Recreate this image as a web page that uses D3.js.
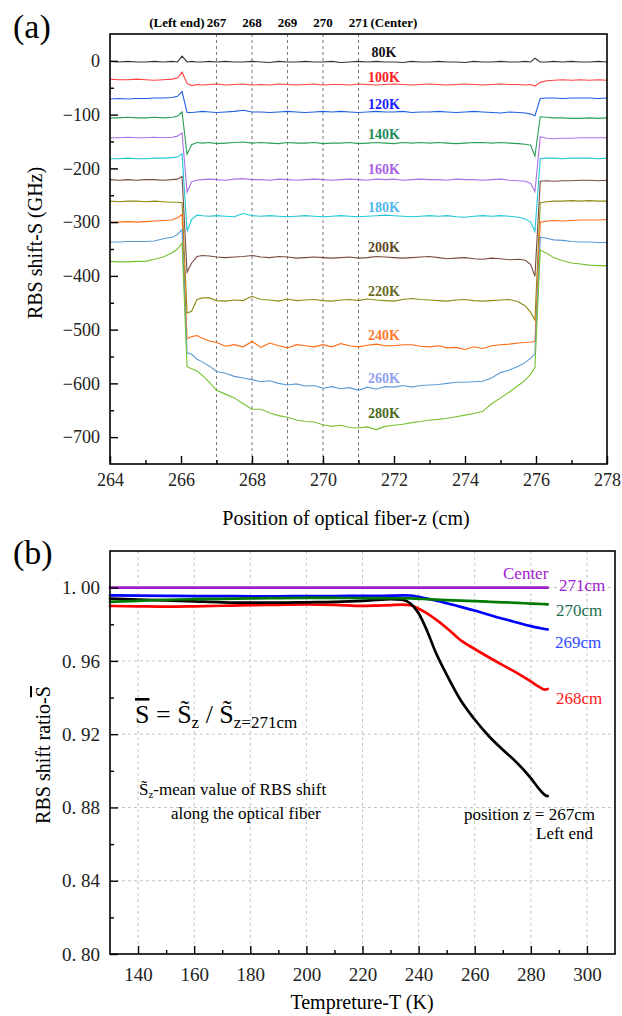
<!DOCTYPE html>
<html><head><meta charset="utf-8">
<script src="https://cdn.jsdelivr.net/npm/d3@7"></script>
<style>
body{margin:0;background:#fff}
svg{display:block}
</style>
</head><body>
<svg id="chart" width="622" height="1016" font-family="'Liberation Serif', 'DejaVu Serif', serif"></svg>
<script>
// ---------------- Panel (a) data ----------------
const zPos = [264,264.25,264.5,264.75,265,265.25,265.5,265.75,265.9,266.03,
 266.17,266.3,266.45,266.6,266.8,267,267.25,267.5,267.75,268,
 268.25,268.5,268.75,269,269.25,269.5,269.75,270,270.25,270.5,
 270.75,271,271.25,271.5,271.75,272,272.25,272.5,272.75,273,
 273.25,273.5,273.75,274,274.25,274.5,274.75,275,275.25,275.5,
 275.7,275.85,275.97,276.12,276.3,276.5,276.75,277,277.25,277.5,
 277.75,278];
const s80 = [-1,-2,-1,-2,-2,-1,-2,-1,-2,9,
 -2,-1,-2,-2,-1,-2,-1,-2,-2,-1,
 -2,-3,-1,-2,-2,-1,-2,-2,-1,-3,
 -2,-1,-2,-1,-2,-2,-3,-1,-2,-2,
 -1,-2,-2,-3,-1,-2,-2,-1,-2,-2,
 -1,-2,5,-2,-2,-1,-2,-1,-2,-2,
 -1,-2];
const s100 = [-34,-35,-35,-34,-35,-36,-35,-34,-32,-21,
 -42,-46,-44,-45,-44,-43,-45,-44,-43,-45,
 -44,-45,-43,-44,-45,-44,-43,-45,-44,-44,
 -45,-43,-44,-45,-44,-43,-44,-45,-44,-43,
 -44,-45,-44,-43,-44,-45,-44,-43,-44,-44,
 -45,-44,-47,-40,-37,-36,-35,-36,-35,-36,
 -35,-36];
const s120 = [-71,-70,-71,-70,-70,-69,-69,-68,-66,-57,
 -96,-96,-95,-94,-95,-96,-95,-94,-92,-95,
 -95,-96,-95,-94,-95,-96,-95,-94,-95,-94,
 -95,-96,-95,-94,-95,-95,-94,-96,-95,-95,
 -94,-95,-96,-95,-94,-95,-96,-97,-95,-96,
 -97,-99,-102,-70,-69,-69,-70,-69,-69,-69,
 -70,-69];
const s140 = [-106,-106,-105,-106,-106,-105,-106,-105,-103,-95,
 -174,-156,-152,-153,-152,-154,-153,-152,-151,-153,
 -152,-153,-154,-152,-153,-153,-152,-154,-153,-153,
 -152,-154,-153,-152,-153,-154,-152,-153,-152,-153,
 -152,-153,-154,-153,-152,-152,-153,-152,-153,-154,
 -155,-157,-177,-104,-105,-106,-106,-107,-107,-106,
 -107,-106];
const s160 = [-143,-143,-142,-143,-143,-142,-143,-142,-140,-134,
 -244,-225,-222,-221,-220,-221,-222,-220,-219,-221,
 -221,-222,-220,-221,-222,-221,-220,-221,-222,-221,
 -220,-221,-222,-220,-221,-220,-222,-221,-220,-221,
 -221,-222,-220,-221,-221,-222,-221,-220,-222,-223,
 -224,-228,-243,-141,-144,-145,-144,-144,-143,-143,
 -143,-143];
const s180 = [-182,-182,-181,-182,-182,-181,-181,-180,-179,-173,
 -317,-295,-287,-288,-289,-288,-289,-290,-284,-288,
 -289,-288,-289,-290,-289,-288,-289,-290,-289,-288,
 -289,-290,-289,-288,-287,-288,-289,-290,-289,-288,
 -289,-288,-290,-291,-289,-288,-289,-288,-289,-291,
 -294,-300,-317,-182,-181,-181,-182,-181,-181,-181,
 -182,-181];
const s200 = [-221,-222,-221,-222,-221,-221,-222,-221,-220,-215,
 -393,-376,-364,-362,-363,-365,-366,-365,-364,-362,
 -365,-366,-364,-365,-367,-366,-365,-366,-367,-366,
 -365,-367,-366,-364,-365,-366,-367,-366,-365,-364,
 -366,-368,-367,-366,-368,-369,-367,-368,-370,-369,
 -371,-379,-401,-224,-223,-224,-223,-223,-222,-222,
 -223,-222];
const s220 = [-261,-262,-261,-261,-262,-261,-262,-263,-263,-264,
 -469,-466,-444,-441,-441,-446,-447,-445,-446,-438,
 -444,-445,-447,-443,-446,-445,-444,-446,-447,-445,
 -444,-446,-443,-445,-446,-447,-444,-442,-444,-445,
 -446,-447,-445,-444,-446,-447,-446,-445,-444,-448,
 -456,-468,-482,-264,-262,-261,-261,-260,-261,-260,
 -261,-261];
const s240 = [-300,-300,-299,-300,-299,-298,-297,-296,-292,-286,
 -517,-513,-511,-516,-521,-524,-531,-528,-532,-522,
 -533,-525,-530,-534,-528,-530,-532,-528,-532,-526,
 -530,-532,-529,-527,-530,-530,-528,-528,-531,-532,
 -530,-534,-533,-537,-532,-535,-530,-528,-527,-525,
 -524,-523,-522,-300,-298,-297,-298,-297,-296,-296,
 -296,-295];
const s260 = [-337,-337,-336,-336,-336,-335,-331,-328,-323,-314,
 -543,-546,-555,-560,-568,-578,-581,-587,-590,-593,
 -597,-595,-600,-603,-601,-605,-604,-609,-606,-610,
 -608,-613,-607,-611,-606,-607,-604,-607,-604,-603,
 -602,-600,-598,-598,-597,-596,-590,-580,-575,-568,
 -561,-553,-545,-328,-330,-333,-334,-336,-337,-337,
 -338,-338];
const s280 = [-373,-374,-374,-373,-373,-369,-365,-357,-350,-339,
 -569,-573,-577,-585,-598,-613,-620,-627,-638,-648,
 -648,-655,-660,-663,-668,-671,-672,-677,-680,-678,
 -682,-683,-681,-686,-680,-678,-676,-673,-671,-668,
 -667,-665,-662,-659,-656,-652,-638,-627,-616,-604,
 -594,-583,-570,-352,-358,-366,-372,-376,-378,-380,
 -381,-381];
const tempLabels = ["80K","100K","120K","140K","160K","180K","200K","220K","240K","260K","280K"];
const xTicksA = [264,266,268,270,272,274,276,278];
const yTicksA = [0,-100,-200,-300,-400,-500,-600,-700];
const markerZ = [267,268,269,270,271];
const markerLabels = ["267","268","269","270","271"];

// ---------------- Panel (b) data ----------------
const tempK = [130,140,150,160,170,180,190,200,210,220,225,230,234,237,240,243,246,250,255,260,265,270,275,280,283,285,286];
const r271 = [1.0000,1.0000,1.0000,1.0000,1.0000,1.0000,1.0000,1.0000,1.0000,1.0000,1.0000,1.0000,1.0000,1.0000,1.0000,1.0000,1.0000,1.0000,1.0000,1.0000,1.0000,1.0000,1.0000,1.0000,1.0000,1.0000,1.0000];
const r270 = [0.9922,0.9928,0.9934,0.9937,0.9939,0.9941,0.9943,0.9944,0.9944,0.9943,0.9943,0.9942,0.9942,0.9941,0.9939,0.9937,0.9935,0.9932,0.9929,0.9926,0.9923,0.9920,0.9917,0.9913,0.9911,0.9910,0.9909];
const r269 = [0.9958,0.9956,0.9955,0.9954,0.9954,0.9953,0.9953,0.9954,0.9954,0.9955,0.9955,0.9956,0.9958,0.9957,0.9950,0.9940,0.9930,0.9915,0.9895,0.9875,0.9852,0.9830,0.9810,0.9790,0.9780,0.9774,0.9772];
const r268 = [0.9900,0.9898,0.9896,0.9898,0.9901,0.9904,0.9906,0.9908,0.9906,0.9900,0.9902,0.9905,0.9907,0.9904,0.9885,0.9860,0.9828,0.9780,0.9713,0.9665,0.9620,0.9577,0.9535,0.9488,0.9458,0.9443,0.9447];
const r267 = [0.9940,0.9935,0.9930,0.9925,0.9920,0.9918,0.9918,0.9920,0.9922,0.9928,0.9933,0.9937,0.9935,0.9915,0.9860,0.9765,0.9650,0.9525,0.9385,0.9280,0.9190,0.9115,0.9045,0.8960,0.8900,0.8868,0.8862];
const xTicksB = [140,160,180,200,220,240,260,280,300];
const yTicksB = [0.80,0.84,0.88,0.92,0.96,1.00];

// ---------------- drawing ----------------
const svg = d3.select("#chart");
const FONT = "'Liberation Serif', 'DejaVu Serif', serif";

// ===== Panel (a) =====
const A = {l:110, r:607, t:34, b:464};
const xA = d3.scaleLinear([264,278],[A.l,A.r]);
const yA = d3.scaleLinear([-750,50],[A.b,A.t]);
const seriesA = [s80,s100,s120,s140,s160,s180,s200,s220,s240,s260,s280];
const lineColA = ["#333333","#ff4040","#1f5fe0","#2ca05a","#a970e8","#1ec8d8","#7a4a40","#8c8c14","#ff6a14","#5b9bd5","#78c030"];
const labColA = ["#111111","#ff2020","#1a1aff","#1f8a5a","#a860e8","#55b8f0","#5e4a26","#6a6a20","#ff7a30","#90a0f0","#4a6a20"];
const labYA = [57,82,109,139,174,212,252,296,340,383,418];

const gA = svg.append("g");
gA.selectAll("line.mk").data(markerZ).join("line")
  .attr("x1",d=>xA(d)).attr("x2",d=>xA(d)).attr("y1",A.t).attr("y2",A.b)
  .attr("stroke","#777").attr("stroke-width",1).attr("stroke-dasharray","3,3");

const lineA = d3.line().x(d=>xA(d[0])).y(d=>yA(d[1]));
seriesA.forEach((s,i)=>{
  gA.append("path").datum(zPos.map((z,k)=>[z,s[k]]))
    .attr("d",lineA).attr("fill","none").attr("stroke",lineColA[i]).attr("stroke-width",1.1);
});
tempLabels.forEach((t,i)=>{
  gA.append("text").attr("x",384).attr("y",labYA[i]).attr("text-anchor","middle")
    .attr("font-size",14).attr("font-weight","bold").attr("fill",labColA[i]).text(t);
});
gA.selectAll("text.mk").data(markerLabels).join("text")
  .attr("x",(d,i)=>xA(markerZ[i])).attr("y",27).attr("text-anchor","middle")
  .attr("font-size",13).attr("font-weight","bold").text(d=>d);
gA.append("text").attr("x",xA(267)-12).attr("y",27).attr("text-anchor","end")
  .attr("font-size",13).attr("font-weight","bold").text("(Left end)");
gA.append("text").attr("x",xA(271)+12).attr("y",27).attr("text-anchor","start")
  .attr("font-size",13).attr("font-weight","bold").text("(Center)");

function styleAxis(g, fs){
  g.attr("font-family",FONT).attr("font-size",fs);
  g.selectAll("text").attr("fill","#222");
  g.selectAll("line").attr("stroke","#000").attr("stroke-width",1.4);
  g.select(".domain").remove();
}
gA.append("g").attr("transform",`translate(0,${A.b})`)
  .call(d3.axisBottom(xA).tickValues(xTicksA).tickSizeInner(-8).tickSizeOuter(0).tickPadding(9).tickFormat(d3.format("d")))
  .call(g=>styleAxis(g,18));
gA.append("g").attr("transform",`translate(0,${A.b})`)
  .call(d3.axisBottom(xA).tickValues(d3.range(265,278,2)).tickSizeInner(-4).tickSizeOuter(0).tickFormat(""))
  .call(g=>styleAxis(g,18));
gA.append("g").attr("transform",`translate(${A.l},0)`)
  .call(d3.axisLeft(yA).tickValues(yTicksA).tickSizeInner(-8).tickSizeOuter(0).tickPadding(10))
  .call(g=>styleAxis(g,18));
gA.append("g").attr("transform",`translate(${A.l},0)`)
  .call(d3.axisLeft(yA).tickValues(d3.range(-650,50,100)).tickSizeInner(-4).tickSizeOuter(0).tickFormat(""))
  .call(g=>styleAxis(g,18));
gA.append("rect").attr("x",A.l).attr("y",A.t).attr("width",A.r-A.l).attr("height",A.b-A.t)
  .attr("fill","none").attr("stroke","#000").attr("stroke-width",1.6);
gA.append("text").attr("x",346).attr("y",525).attr("text-anchor","middle").attr("font-size",20)
  .text("Position of optical fiber-z (cm)");
gA.append("text").attr("transform","translate(42,243) rotate(-90)").attr("text-anchor","middle").attr("font-size",20)
  .text("RBS shift-S (GHz)");
gA.append("text").attr("x",13).attr("y",38).attr("font-size",34).text("(a)");

// ===== Panel (b) =====
const B = {l:110, r:615, t:551, b:954};
const xB = d3.scaleLinear([130,310],[B.l,B.r]);
const yB = d3.scaleLinear([0.80,1.02],[B.b,B.t]);
const gB = svg.append("g");
gB.selectAll("line.gx").data(xTicksB).join("line")
  .attr("x1",d=>xB(d)).attr("x2",d=>xB(d)).attr("y1",B.t).attr("y2",B.b)
  .attr("stroke","#c4c4c4").attr("stroke-width",1).attr("stroke-dasharray","3,3");
gB.selectAll("line.gy").data(yTicksB.slice(1)).join("line")
  .attr("x1",B.l).attr("x2",B.r).attr("y1",d=>yB(d)).attr("y2",d=>yB(d))
  .attr("stroke","#c4c4c4").attr("stroke-width",1).attr("stroke-dasharray","3,3");

const lineB = d3.line().x(d=>xB(d[0])).y(d=>yB(d[1])).curve(d3.curveMonotoneX);
const seriesB = [r268,r267,r269,r270,r271];
const colB = ["#ff0000","#000000","#0000ff","#007a00","#9a1ec8"];
seriesB.forEach((s,i)=>{
  gB.append("path").datum(tempK.map((t,k)=>[t,s[k]]))
    .attr("d",lineB).attr("fill","none").attr("stroke",colB[i]).attr("stroke-width",2.7)
    .attr("stroke-linecap","round");
});

gB.append("g").attr("transform",`translate(0,${B.b})`)
  .call(d3.axisBottom(xB).tickValues(xTicksB).tickSizeInner(-8).tickSizeOuter(0).tickPadding(14).tickFormat(d3.format("d")))
  .call(g=>styleAxis(g,19));
gB.append("g").attr("transform",`translate(0,${B.b})`)
  .call(d3.axisBottom(xB).tickValues(d3.range(150,310,20)).tickSizeInner(-4).tickSizeOuter(0).tickFormat(""))
  .call(g=>styleAxis(g,19));
gB.append("g").attr("transform",`translate(${B.l},0)`)
  .call(d3.axisLeft(yB).tickValues(yTicksB).tickSizeInner(-8).tickSizeOuter(0).tickPadding(10)
    .tickFormat(d=>d.toFixed(2).replace(".",". ")))
  .call(g=>styleAxis(g,19));
gB.append("g").attr("transform",`translate(${B.l},0)`)
  .call(d3.axisLeft(yB).tickValues([0.82,0.86,0.90,0.94,0.98]).tickSizeInner(-4).tickSizeOuter(0).tickFormat(""))
  .call(g=>styleAxis(g,19));
gB.append("rect").attr("x",B.l).attr("y",B.t).attr("width",B.r-B.l).attr("height",B.b-B.t)
  .attr("fill","none").attr("stroke","#000").attr("stroke-width",1.6);

const posLabels = ["271cm","270cm","269cm","268cm"];
const posCols = ["#a020d0","#1e6e50","#2e4cff","#ff1a1a"];
const posX = [559,556,555,556];
const posY = [591,616,648,704];
posLabels.forEach((t,i)=>{
  gB.append("text").attr("x",posX[i]).attr("y",posY[i]).attr("font-size",17).attr("fill",posCols[i]).text(t);
});
gB.append("text").attr("x",503).attr("y",579).attr("font-size",17).attr("fill","#a020d0").text("Center");
gB.append("text").attr("x",464).attr("y",820).attr("font-size",17).text("position z = 267cm");
gB.append("text").attr("x",536).attr("y",839).attr("font-size",17).text("Left end");

const f = gB.append("text").attr("x",135).attr("y",723).attr("font-size",26);
f.append("tspan").attr("text-decoration","overline").text("S");
f.append("tspan").text(" = S\u0303");
f.append("tspan").attr("font-size",17).attr("dy",5).text("z");
f.append("tspan").attr("dy",-5).text(" / S\u0303");
f.append("tspan").attr("font-size",17).attr("dy",5).text("z=271cm");

const n1 = gB.append("text").attr("x",139).attr("y",795).attr("font-size",17);
n1.append("tspan").text("S\u0303");
n1.append("tspan").attr("font-size",11).attr("dy",3).text("z");
n1.append("tspan").attr("dy",-3).text("-mean value of RBS shift");
gB.append("text").attr("x",171).attr("y",819).attr("font-size",17).text("along the optical fiber");

gB.append("text").attr("x",362).attr("y",1009).attr("text-anchor","middle").attr("font-size",20)
  .text("Tempreture-T (K)");
const yt = gB.append("text").attr("transform","translate(50,755) rotate(-90)").attr("text-anchor","middle").attr("font-size",20);
yt.append("tspan").text("RBS shift ratio-");
yt.append("tspan").attr("text-decoration","overline").text("S");
gB.append("text").attr("x",13).attr("y",564).attr("font-size",34).text("(b)");
</script>
</body></html>
